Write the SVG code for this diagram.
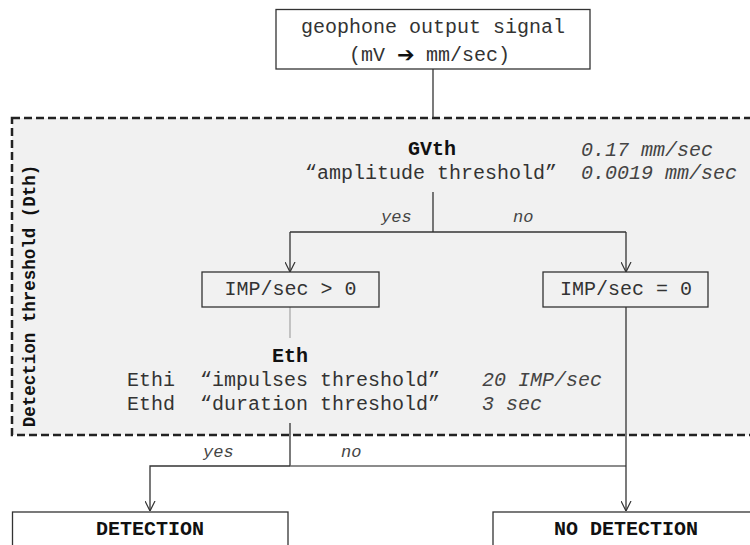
<svg xmlns="http://www.w3.org/2000/svg" width="750" height="545" viewBox="0 0 750 545">
<style>
  .t{font-family:"Liberation Mono","Courier New",monospace;font-size:20px;fill:#333}
  .b{font-family:"Liberation Mono","Courier New",monospace;font-size:20px;font-weight:bold;fill:#111}
  .i{font-family:"Liberation Mono","Courier New",monospace;font-size:20px;font-style:italic;fill:#444}
  .s{font-family:"Liberation Mono","Courier New",monospace;font-size:17px;font-style:italic;fill:#444}
  .box{fill:#fff;stroke:#333;stroke-width:1.3}
  .gbox{fill:#f1f1f1;stroke:#333;stroke-width:1.3}
  .ln{fill:none;stroke:#333;stroke-width:1.3}
  .lg{fill:none;stroke:#aaa;stroke-width:1.3}
</style>
<defs>
  <marker id="arr" viewBox="0 0 10 10" refX="10" refY="5" markerWidth="10" markerHeight="11" markerUnits="userSpaceOnUse" orient="auto">
    <path d="M0,0 L10,5 L0,10" fill="none" stroke="#333" stroke-width="1.2"/>
  </marker>
</defs>
<rect width="750" height="545" fill="#fff"/>

<g id="dth-region">
  <rect x="12" y="118" width="760" height="317" fill="#f1f1f1" stroke="#222" stroke-width="2.5" stroke-dasharray="8 4"/>
  <text class="b" transform="translate(35,296) rotate(-90)" text-anchor="middle" style="font-size:17.5px">Detection threshold (Dth)</text>
</g>

<g id="connectors">
  <line class="ln" x1="433" y1="69" x2="433" y2="118"/>
  <line class="ln" x1="433" y1="192" x2="433" y2="232"/>
  <line class="ln" x1="290" y1="232" x2="626" y2="232"/>
  <line class="ln" x1="290" y1="232" x2="290" y2="272" marker-end="url(#arr)"/>
  <line class="ln" x1="626" y1="232" x2="626" y2="272" marker-end="url(#arr)"/>
  <line class="lg" x1="290" y1="307" x2="290" y2="338"/>
  <line class="ln" x1="290" y1="423" x2="290" y2="466"/>
  <polyline class="ln" points="290,466 150,466 150,511" marker-end="url(#arr)"/>
  <line x1="290" y1="466" x2="626" y2="466" stroke="#666" stroke-width="1.5"/>
  <line class="ln" x1="626" y1="307" x2="626" y2="511" marker-end="url(#arr)"/>
  <text class="s" x="381" y="222">yes</text>
  <text class="s" x="513" y="222">no</text>
  <text class="s" x="203" y="457">yes</text>
  <text class="s" x="341" y="457">no</text>
</g>

<g id="geophone">
  <rect class="box" x="276" y="9.5" width="314" height="59.5"/>
  <text class="t" x="433" y="33" text-anchor="middle">geophone output signal</text>
  <text class="t" x="349" y="61">(mV</text>
  <text x="397" y="62" style="font-family:'DejaVu Sans',sans-serif;font-size:21px;font-weight:bold;fill:#111">➔</text>
  <text class="t" x="426" y="61">mm/sec)</text>
</g>

<g id="gvth">
  <text class="b" x="432" y="155" text-anchor="middle">GVth</text>
  <text class="t" x="305" y="179">“amplitude threshold”</text>
  <text class="i" x="581" y="156">0.17 mm/sec</text>
  <text class="i" x="581" y="179">0.0019 mm/sec</text>
</g>

<g id="imp-gt">
  <rect class="gbox" x="202" y="272" width="177" height="35"/>
  <text class="t" x="290.5" y="295" text-anchor="middle">IMP/sec &gt; 0</text>
</g>

<g id="imp-eq">
  <rect class="gbox" x="543" y="272" width="165" height="35"/>
  <text class="t" x="626" y="295" text-anchor="middle">IMP/sec = 0</text>
</g>

<g id="eth">
  <text class="b" x="290" y="362" text-anchor="middle">Eth</text>
  <text class="t" x="127" y="386">Ethi</text>
  <text class="t" x="200" y="386">“impulses threshold”</text>
  <text class="i" x="482" y="386">20 IMP/sec</text>
  <text class="t" x="127" y="410">Ethd</text>
  <text class="t" x="200" y="410">“duration threshold”</text>
  <text class="i" x="482" y="410">3 sec</text>
</g>

<g id="detection">
  <rect class="box" x="12.5" y="512" width="275.5" height="50"/>
  <text class="b" x="150" y="535" text-anchor="middle">DETECTION</text>
</g>

<g id="no-detection">
  <rect class="box" x="493" y="512" width="300" height="50"/>
  <text class="b" x="626" y="535" text-anchor="middle">NO DETECTION</text>
</g>
</svg>
